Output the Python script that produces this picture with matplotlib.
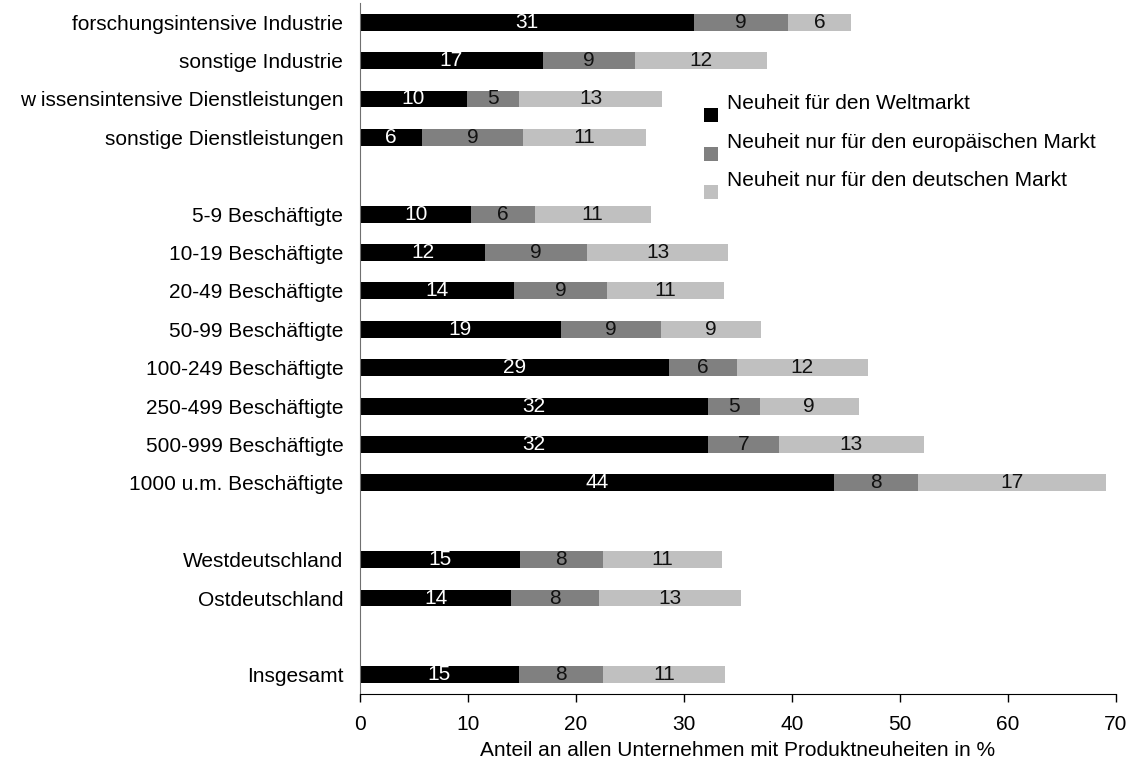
import numpy as np
import matplotlib
matplotlib.use('Agg')
import matplotlib.pyplot as plt
from matplotlib.patches import Rectangle
from matplotlib.legend_handler import HandlerPatch

plt.rcParams['font.family'] = ['Liberation Sans', 'DejaVu Sans']

# categories, top to bottom ('' = empty gap row)
categories = ['forschungsintensive Industrie', 'sonstige Industrie',
              'w issensintensive Dienstleistungen', 'sonstige Dienstleistungen', '',
              '5-9 Beschäftigte', '10-19 Beschäftigte', '20-49 Beschäftigte',
              '50-99 Beschäftigte', '100-249 Beschäftigte', '250-499 Beschäftigte',
              '500-999 Beschäftigte', '1000 u.m. Beschäftigte', '',
              'Westdeutschland', 'Ostdeutschland', '', 'Insgesamt']

# shares in %, None for the gap rows
welt = [30.9, 16.9, 9.9, 5.7, None, 10.3, 11.6, 14.3, 18.6, 28.6, 32.2, 32.2, 43.9,
        None, 14.8, 14.0, None, 14.7]
europa = [8.7, 8.6, 4.8, 9.4, None, 5.9, 9.4, 8.6, 9.3, 6.3, 4.8, 6.6, 7.8,
          None, 7.7, 8.1, None, 7.8]
deutsch = [5.9, 12.2, 13.3, 11.4, None, 10.7, 13.1, 10.8, 9.2, 12.1, 9.2, 13.4, 17.4,
           None, 11.0, 13.2, None, 11.3]

series_names = ['Neuheit für den Weltmarkt',
                'Neuheit nur für den europäischen Markt',
                'Neuheit nur für den deutschen Markt']
colors = ['#000000', '#808080', '#c0c0c0']
label_colors = ['white', '#111111', '#111111']
fs = 15

fig = plt.figure(figsize=(11.28, 7.69), dpi=100)
ax = fig.add_axes([360 / 1128, 1 - 694 / 769, (1116 - 360) / 1128, 691 / 769])

y = np.arange(len(categories))
left = np.zeros(len(categories))
handles = []
for vals, name, col, lcol in zip([welt, europa, deutsch], series_names, colors, label_colors):
    v = np.array([np.nan if a is None else a for a in vals], dtype=float)
    bars = ax.barh(y, np.nan_to_num(v), left=left, height=0.44, color=col, label=name)
    handles.append(bars.patches[0])
    for i, val in enumerate(v):
        if np.isnan(val):
            continue
        ax.text(left[i] + val / 2, y[i], '%d' % round(val), ha='center', va='center',
                color=lcol, fontsize=fs)
    left = left + np.nan_to_num(v)

ax.set_yticks(y)
ax.set_yticklabels(categories, fontsize=fs)
ax.set_ylim(len(categories) - 0.5, -0.5)
ax.set_xlim(0, 70)
ax.set_xticks(range(0, 71, 10))
ax.tick_params(axis='x', labelsize=fs, direction='out', length=6, width=1, pad=9)
ax.tick_params(axis='y', length=0, pad=12)
ax.set_xlabel('Anteil an allen Unternehmen mit Produktneuheiten in %', fontsize=fs,
              labelpad=5)

for s in ['top', 'right']:
    ax.spines[s].set_visible(False)
ax.spines['left'].set_color('#707070')
ax.spines['bottom'].set_color('black')


# Excel-style legend keys sit below the text centre
def low_square(legend, orig_handle, xdescent, ydescent, width, height, fontsize):
    return Rectangle((-xdescent, -ydescent - 0.95 * height), width, height)


fig.legend(handles=handles, labels=series_names, loc='upper left',
           bbox_to_anchor=(704 / 1128, 1 - 94 / 769), frameon=False, fontsize=fs,
           handlelength=0.67, handleheight=0.67, handletextpad=0.45, labelspacing=0.94,
           borderpad=0, borderaxespad=0,
           handler_map={Rectangle: HandlerPatch(patch_func=low_square)})

fig.savefig('out.png', dpi=100)
